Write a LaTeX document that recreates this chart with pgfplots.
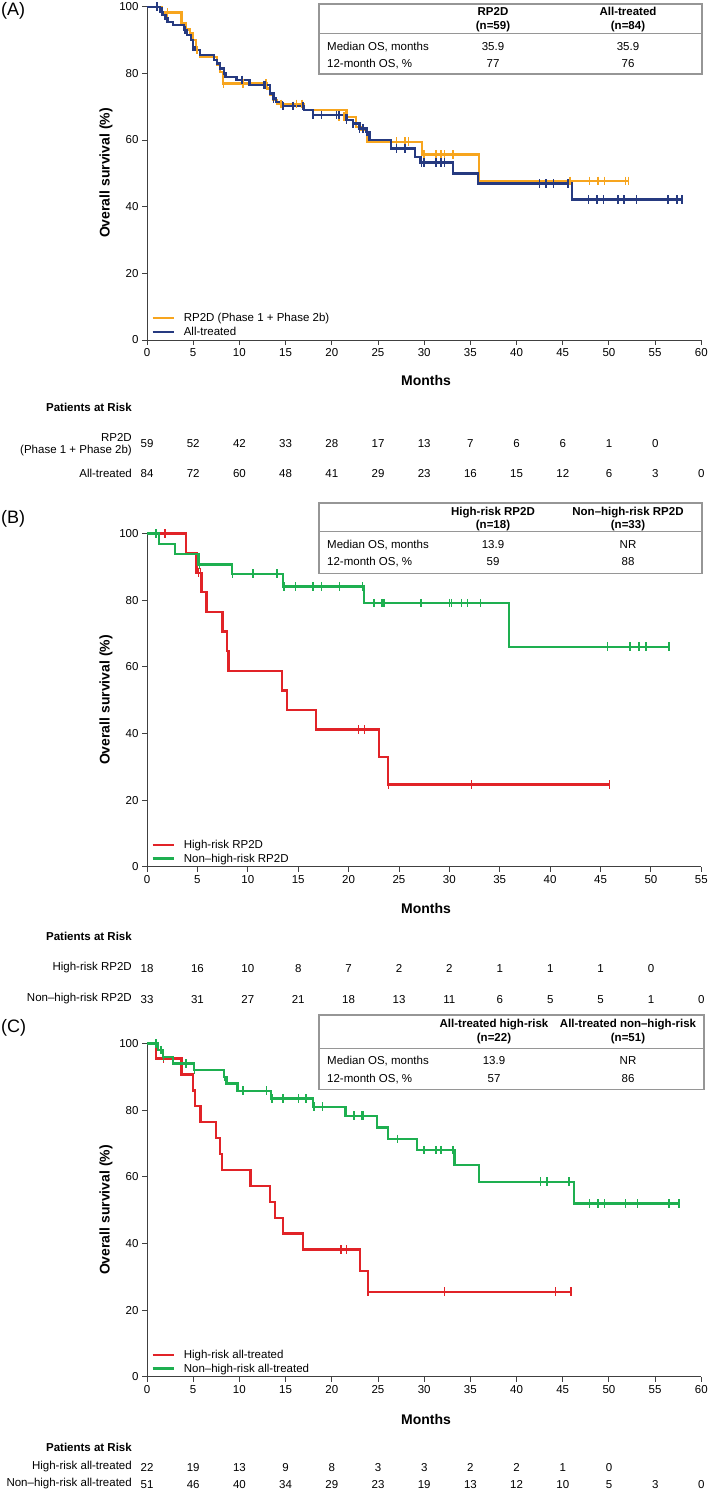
\documentclass[border=0pt]{standalone}
\usepackage{fontspec}
\setmainfont{Liberation Sans}
\usepackage{pgfplots}
\pgfplotsset{compat=1.18}
\definecolor{cOr}{RGB}{247,165,30}
\definecolor{cNv}{RGB}{38,58,128}
\definecolor{cRd}{RGB}{225,35,40}
\definecolor{cGr}{RGB}{30,175,80}
\definecolor{cBox}{RGB}{150,150,150}
\newcommand\fs{\fontsize{11.5}{13}\selectfont}
\newcommand\fb{\bfseries\fontsize{11.5}{13}\selectfont}
\pgfplotsset{km/.style={scale only axis, width=554.3pt, height=333.3pt,
  axis lines=left, axis line style={-, black!75, line width=0.9pt},
  tick style={black!75, line width=0.9pt}, tick align=outside, major tick length=5pt,
  ymin=0, ymax=100, ytick={0,20,40,60,80,100}, xmin=0,
  ticklabel style={font=\fs}, /pgf/number format/assume math mode=true,
  clip=false, anchor=south west,
  legend style={at={(0.006,0.0)}, anchor=south west, draw=none, fill=none, font=\fs, row sep=0pt, inner sep=1pt},
  legend cell align=left,
  legend image code/.code={\draw[#1, line width=2.3pt] (0pt,0pt) -- (21pt,0pt); \path (28pt,0pt);}},
  step/.style={const plot, line width=2.3pt},
  cens/.style={only marks, mark=|, mark size=4.3pt, mark options={line width=1.6pt}, forget plot}}
\begin{document}
\begin{tikzpicture}
\useasboundingbox (0pt,0pt) rectangle (709pt,-1491pt);
% ================= Panel A =================
\begin{axis}[km, at={(147pt,-340pt)}, xmax=60, xtick={0,5,...,60}]
\addplot[step, cOr] coordinates {(0,100) (1.6,98.3) (3.75,95) (4.2,93.2) (4.65,92) (5.0,90) (5.3,87) (5.7,85) (7.6,82.5) (7.9,80.5) (8.2,77) (13.0,75.5) (13.3,73.5) (13.7,72) (14.1,70.8) (17.0,69) (21.6,67) (22.6,64) (23.1,63) (23.8,59.5) (29.8,55.7) (35.9,47.7) (52.1,47.7)};
\addlegendentry{RP2D (Phase 1 + Phase 2b)}
\addplot[step, cNv] coordinates {(0,100) (1.4,98.5) (1.7,97.5) (2.0,96.5) (2.3,95.5) (2.8,94.5) (4.0,93) (4.3,91.5) (4.8,90) (5.0,88) (5.2,87) (5.7,85.5) (7.25,84) (7.6,83) (7.9,81.5) (8.3,80) (8.5,79) (9.7,78) (11.1,76.5) (13.3,74) (13.7,72.5) (14.0,71.5) (14.6,70.2) (17.0,69) (18.0,67.5) (21.6,66) (22.3,65) (23.0,63.5) (23.7,62.5) (24.1,60) (26.4,57.5) (29.0,55) (29.6,53.3) (33.1,50) (35.8,47) (46.0,42.2) (57.9,42.2)};
\addlegendentry{All-treated}
\addplot[cens, cOr] coordinates {(2.2,98.3) (5.4,87) (8.3,77) (10.4,77) (12.9,77) (14.5,70.8) (16.2,70.8) (16.8,70.8) (20.8,67) (21.3,67) (27.0,59.5) (27.9,59.5) (28.3,59.5) (30.0,55.7) (31.3,55.7) (31.8,55.7) (32.2,55.7) (33.1,55.7) (45.8,47.7) (47.9,47.7) (48.8,47.7) (49.5,47.7) (51.8,47.7) (52.1,47.7)};
\addplot[cens, cNv] coordinates {(1.1,100) (1.6,98.5) (2.1,96.5) (4.1,93) (5.0,88) (8.4,80) (10.3,78) (12.6,76.5) (12.8,76.5) (13.7,72.5) (14.7,70.2) (15.8,70.2) (16.9,70.2) (18.0,67.5) (18.9,67.5) (20.5,67.5) (20.8,67.5) (21.6,66) (22.3,65) (23.0,63.5) (23.4,63.5) (23.8,62.5) (27.0,57.5) (27.9,57.5) (29.7,53.3) (30.0,53.3) (31.3,53.3) (31.8,53.3) (32.2,53.3) (42.5,47) (43.2,47) (44.0,47) (45.6,47) (47.8,42.2) (48.7,42.2) (49.4,42.2) (51.0,42.2) (51.6,42.2) (53.0,42.2) (56.4,42.2) (57.4,42.2) (57.9,42.2)};
\end{axis}
% ================= Panel B =================
\begin{axis}[km, at={(147pt,-866.7pt)}, xmax=55, xtick={0,5,...,55}]
\addplot[step, cRd] coordinates {(0,100) (3.9,94.1) (4.9,88.2) (5.4,82.4) (5.9,76.5) (7.5,70.6) (7.95,64.7) (8.1,58.8) (13.4,52.9) (13.9,47.1) (16.8,41.2) (23.05,32.9) (23.9,24.7) (45.9,24.7)};
\addlegendentry{High-risk RP2D}
\addplot[step, cGr] coordinates {(0,100) (1.2,96.9) (2.8,93.8) (5.1,90.7) (8.4,87.9) (13.5,84.1) (21.5,79.1) (35.9,66) (51.8,66)};
\addlegendentry{Non–high-risk RP2D}
\addplot[cens, cRd] coordinates {(1.8,100) (5.1,88.2) (5.3,88.2) (21.0,41.2) (21.6,41.2) (23.95,24.7) (32.2,24.7) (45.9,24.7)};
\addplot[cens, cGr] coordinates {(0.9,100) (5.2,90.7) (8.5,87.9) (10.5,87.9) (12.9,87.9) (13.6,84.1) (14.75,84.1) (16.5,84.1) (17.3,84.1) (19.1,84.1) (21.4,84.1) (22.5,79.1) (23.3,79.1) (23.5,79.1) (27.2,79.1) (30.0,79.1) (30.2,79.1) (31.2,79.1) (31.8,79.1) (33.1,79.1) (45.7,66) (47.9,66) (48.8,66) (49.5,66) (51.8,66)};
\end{axis}
% ================= Panel C =================
\begin{axis}[km, at={(147pt,-1376.7pt)}, xmax=60, xtick={0,5,...,60}]
\addplot[step, cRd] coordinates {(0,100) (0.96,95.5) (3.75,90.7) (5.0,85.9) (5.2,81.2) (5.8,76.4) (7.5,71.6) (7.9,66.8) (8.15,62.1) (11.2,57.3) (13.3,52.5) (13.85,47.7) (14.7,43.0) (16.85,38.2) (23.05,31.8) (23.95,25.5) (45.9,25.5)};
\addlegendentry{High-risk all-treated}
\addplot[step, cGr] coordinates {(0,100) (1.2,98.0) (1.7,96.0) (2.8,94.0) (5.1,92.0) (8.3,90.0) (8.6,88.0) (9.8,85.8) (13.4,83.5) (18.0,81.0) (21.5,78.3) (24.9,74.8) (26.1,71.3) (29.2,68.0) (33.3,63.5) (35.9,58.5) (46.2,52.0) (57.6,52.0)};
\addlegendentry{Non–high-risk all-treated}
\addplot[cens, cRd] coordinates {(1.8,95.5) (21.0,38.2) (21.6,38.2) (23.95,25.5) (32.2,25.5) (44.2,25.5) (45.9,25.5)};
\addplot[cens, cGr] coordinates {(1.0,100) (1.5,98) (1.8,96) (4.2,94) (5.15,92) (8.4,90) (10.4,85.8) (12.95,85.8) (13.5,83.5) (14.75,83.5) (16.4,83.5) (17.2,83.5) (18.05,81) (19.0,81) (22.4,78.3) (23.2,78.3) (23.4,78.3) (27.1,71.3) (29.97,68) (31.3,68) (31.8,68) (33.1,68) (42.6,58.5) (43.3,58.5) (45.7,58.5) (47.9,52) (48.8,52) (49.5,52) (51.8,52) (53.1,52) (56.5,52) (57.6,52)};
\end{axis}
% ================= Texts =================
\tikzset{pl/.style={font=\fontsize{18}{20}\selectfont, anchor=west, inner sep=1pt},
  yl/.style={rotate=90, font=\bfseries\fontsize{14}{16}\selectfont},
  ml/.style={font=\bfseries\fontsize{14}{16}\selectfont},
  rl/.style={font=\fs, anchor=east, inner sep=0pt},
  rb/.style={font=\fb, anchor=east, inner sep=0pt},
  nn/.style={font=\fs, anchor=base, inner sep=0pt},
  th/.style={font=\fb, anchor=base, inner sep=0pt},
  td/.style={font=\fs, anchor=base, inner sep=0pt},
  tl/.style={font=\fs, anchor=base west, inner sep=0pt}}
\node[pl] at (0pt,-10.5pt) {(A)};
\node[pl] at (0pt,-519pt) {(B)};
\node[pl] at (0pt,-1028pt) {(C)};
\node[yl] at (106pt,-173pt) {Overall survival (\%)};
\node[yl] at (106pt,-700pt) {Overall survival (\%)};
\node[yl] at (106pt,-1210pt) {Overall survival (\%)};
\node[ml] at (426pt,-380pt) {Months};
\node[ml] at (426pt,-908pt) {Months};
\node[ml] at (426pt,-1419pt) {Months};
% summary tables
\draw[cBox, line width=1.2pt] (319pt,-4pt) rectangle (702pt,-74pt);
\draw[cBox, line width=1.2pt] (319pt,-33.5pt) -- (702pt,-33.5pt);
\node[th] at (493pt,-15.7pt) {RP2D};
\node[th] at (493pt,-29pt) {(n=59)};
\node[th] at (628pt,-15.7pt) {All-treated};
\node[th] at (628pt,-29pt) {(n=84)};
\node[tl] at (327pt,-50pt) {Median OS, months};
\node[tl] at (327pt,-67.3pt) {12-month OS, \%};
\node[td] at (493pt,-50pt) {35.9};
\node[td] at (628pt,-50pt) {35.9};
\node[td] at (493pt,-67.3pt) {77};
\node[td] at (628pt,-67.3pt) {76};
\draw[cBox, line width=1.2pt] (319pt,-503pt) rectangle (702pt,-573.3pt);
\draw[cBox, line width=1.2pt] (319pt,-531.7pt) -- (702pt,-531.7pt);
\node[th] at (493pt,-515pt) {High-risk RP2D};
\node[th] at (493pt,-528pt) {(n=18)};
\node[th] at (628pt,-515pt) {Non–high-risk RP2D};
\node[th] at (628pt,-528pt) {(n=33)};
\node[tl] at (327pt,-548.3pt) {Median OS, months};
\node[tl] at (327pt,-565.7pt) {12-month OS, \%};
\node[td] at (493pt,-548.3pt) {13.9};
\node[td] at (628pt,-548.3pt) {NR};
\node[td] at (493pt,-565.7pt) {59};
\node[td] at (628pt,-565.7pt) {88};
\draw[cBox, line width=1.2pt] (319pt,-1015pt) rectangle (704pt,-1089.5pt);
\draw[cBox, line width=1.2pt] (319pt,-1048.3pt) -- (704pt,-1048.3pt);
\node[th] at (494pt,-1027pt) {All-treated high-risk};
\node[th] at (494pt,-1041pt) {(n=22)};
\node[th] at (628pt,-1027pt) {All-treated non–high-risk};
\node[th] at (628pt,-1041pt) {(n=51)};
\node[tl] at (327pt,-1064.7pt) {Median OS, months};
\node[tl] at (327pt,-1082pt) {12-month OS, \%};
\node[td] at (494pt,-1064.7pt) {13.9};
\node[td] at (628pt,-1064.7pt) {NR};
\node[td] at (494pt,-1082pt) {57};
\node[td] at (628pt,-1082pt) {86};
% risk tables
\node[rb] at (132pt,-407pt) {Patients at Risk};
\node[rl] at (132pt,-437pt) {RP2D};
\node[rl] at (132pt,-451pt) {(Phase 1 + Phase 2b)};
\node[rl] at (132pt,-473pt) {All-treated};
\foreach \v [count=\i from 0] in {59,52,42,33,28,17,13,7,6,6,1,0}
  \node[nn] at ({147pt+\i*46.2pt},-447.5pt) {\v};
\foreach \v [count=\i from 0] in {84,72,60,48,41,29,23,16,15,12,6,3,0}
  \node[nn] at ({147pt+\i*46.2pt},-477pt) {\v};
\node[rb] at (132pt,-936pt) {Patients at Risk};
\node[rl] at (132pt,-968pt) {High-risk RP2D};
\node[rl] at (132pt,-999pt) {Non–high-risk RP2D};
\foreach \v [count=\i from 0] in {18,16,10,8,7,2,2,1,1,1,0}
  \node[nn] at ({147pt+\i*50.4pt},-972pt) {\v};
\foreach \v [count=\i from 0] in {33,31,27,21,18,13,11,6,5,5,1,0}
  \node[nn] at ({147pt+\i*50.4pt},-1003pt) {\v};
\node[rb] at (132pt,-1447pt) {Patients at Risk};
\node[rl] at (132pt,-1467pt) {High-risk all-treated};
\node[rl] at (132pt,-1484pt) {Non–high-risk all-treated};
\foreach \v [count=\i from 0] in {22,19,13,9,8,3,3,2,2,1,0}
  \node[nn] at ({147pt+\i*46.2pt},-1471pt) {\v};
\foreach \v [count=\i from 0] in {51,46,40,34,29,23,19,13,12,10,5,3,0}
  \node[nn] at ({147pt+\i*46.2pt},-1488pt) {\v};
\end{tikzpicture}
\end{document}
